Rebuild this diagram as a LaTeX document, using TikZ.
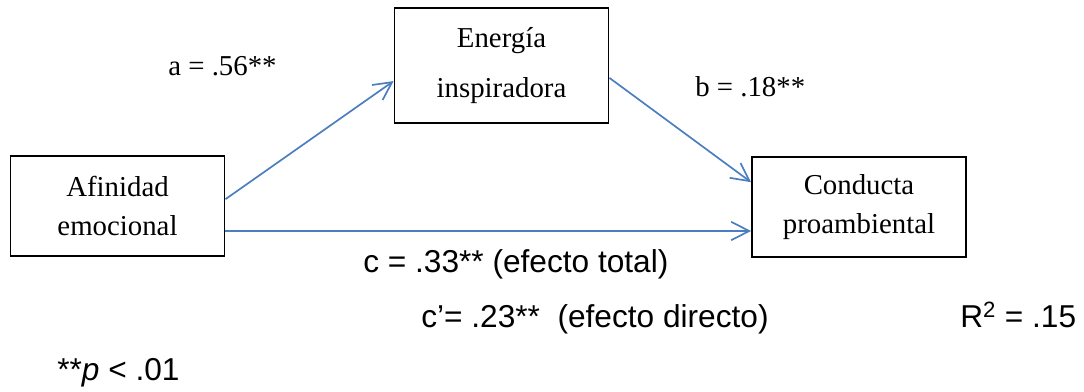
\documentclass[tikz,border=0pt]{standalone}
\usepackage{fontspec}
\setmainfont{Liberation Serif}
\setsansfont{Liberation Sans}
\usetikzlibrary{arrows.meta}
\definecolor{pathblue}{RGB}{74,126,190}

\begin{document}
\begin{tikzpicture}[
        x=0.025cm, y=-0.025cm,
        var/.style={rectangle, draw, line width=1.3pt, minimum width=5.35cm, minimum height=2.5cm, align=center, inner sep=0pt, font=\fontsize{20.5}{27.5}\selectfont},
        effect/.style={-{Straight Barb[length=4.5mm, width=4.6mm]}, draw=pathblue, line width=1.2pt},
        coef/.style={anchor=base west, inner sep=0pt, font=\fontsize{20.5}{24}\selectfont},
        coefsans/.style={anchor=base west, inner sep=0pt, font=\fontsize{22.5}{26}\selectfont\sffamily}
    ]
        \useasboundingbox (0,0) rectangle (1084,392);

        % Variables
        \node[var] (afin) at (117.5,206) {Afinidad\\emocional};
        \node[var, minimum height=2.875cm] (energ) at (501.5,65.5) {Energía\\[8.5pt]inspiradora};
        \node[var] (cond) at (859,207) {Conducta\\proambiental};

        % Paths
        \draw[effect] ([yshift=0.17cm]afin.east) -- ([yshift=-0.39cm]energ.west);
        \draw[effect] ([yshift=-0.31cm]energ.east) -- ([yshift=0.62cm]cond.west);
        \draw[effect] ([yshift=-0.625cm]afin.east) -- ([yshift=-0.6cm]cond.west);

        % Coefficients
        \node[coef] (acoef) at (168,76) {a = .56**};
        \node[coef] (bcoef) at (695,97) {b = .18**};
        \node[coefsans] (ctotal) at (363,273) {c = .33** (efecto total)};
        \node[coefsans] (cdirect) at (421,328) {c’= .23**\ \ (efecto directo)};
        \node[coefsans] (rsq) at (960,328) {R\textsuperscript{2} = .15};
        \node[coefsans] (pnote) at (57,381) {**\textit{p} < .01};
    \end{tikzpicture}
\end{document}
